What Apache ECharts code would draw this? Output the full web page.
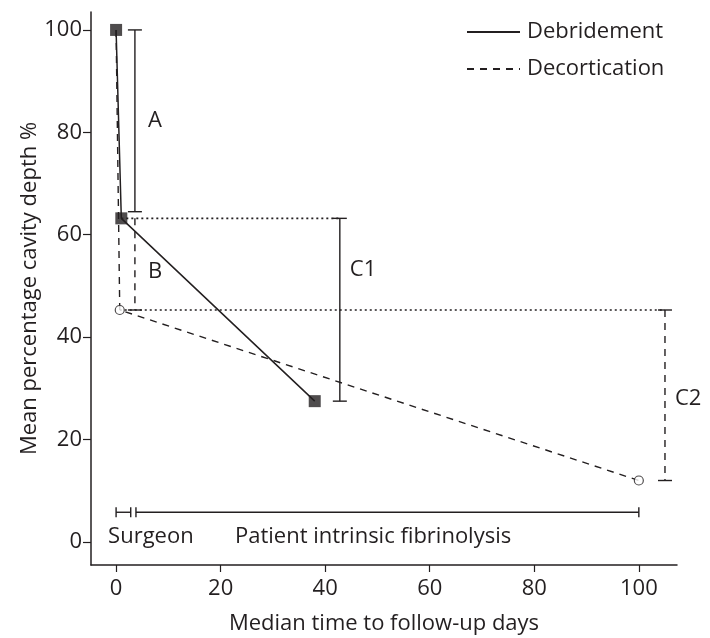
<!DOCTYPE html>
<html>
<head>
<meta charset="utf-8">
<script src="https://cdn.jsdelivr.net/npm/echarts@6/dist/echarts.min.js"></script>
<style>
html, body { margin: 0; padding: 0; background: #fff; }
#chart { width: 710px; height: 638px; }
</style>
</head>
<body>
<div id="chart"></div>
<script>
// tick labels
const xTicks = [0, 20, 40, 60, 80, 100];
const yTicks = [0, 20, 40, 60, 80, 100];

// series
const debrX = [0, 1, 38];
const debrY = [100, 63.2, 27.5];
const decoX = [0, 0.7, 100];
const decoY = [100, 45.3, 12];

// labelled depth differences (vertical bars)
const barNames = ['A', 'B', 'C1', 'C2'];
const barX = [3.6, 3.6, 42.8, 105];
const barTop = [100, 63.2, 63.2, 45.3];
const barBottom = [64.5, 45.3, 27.5, 12];

// time phases along the bottom
const phaseNames = ['Surgeon', 'Patient intrinsic fibrinolysis'];
const phaseStart = [0, 3.8];
const phaseEnd = [2.8, 100];
const phaseLevel = 5.8;

const ink = '#231f20';
const font = '"Open Sans", sans-serif';

// style per bar: dashed or not, which caps, label nudge (px)
const barStyle = {
    A: { dash: null, capTop: true, capBottom: true, dx: 13, dy: 0 },
    B: { dash: [7, 6], capTop: false, capBottom: true, dx: 13, dy: 8 },
    C1: { dash: null, capTop: true, capBottom: true, dx: 10, dy: -40 },
    C2: { dash: [7, 6], capTop: true, capBottom: true, dx: 10, dy: 3 }
};
const phaseLabelDx = [-8, 99];

const myChart = echarts.init(document.getElementById('chart'));

const toPairs = (xs, ys) => xs.map((x, i) => [x, ys[i]]);

const option = {
    animation: false,
    textStyle: { fontFamily: font, color: ink },
    grid: { left: 91, right: 33, top: 12, bottom: 73, outerBoundsMode: 'none', containLabel: false },
    legend: {
        orient: 'vertical',
        left: 461,
        top: 16,
        itemWidth: 53,
        itemHeight: 14,
        itemGap: 15,
        itemStyle: { opacity: 0 },
        textStyle: { fontSize: 22, color: ink, fontFamily: font, padding: [0, 0, 0, 2] },
        data: ['Debridement', 'Decortication']
    },
    xAxis: {
        type: 'value',
        min: -4.8,
        max: 107.3,
        name: 'Median time to follow-up days',
        nameLocation: 'middle',
        nameMoveOverlap: false,
        nameGap: 48,
        nameTextStyle: { fontSize: 22, color: ink },
        splitLine: { show: false },
        axisLine: { onZero: false, lineStyle: { color: ink, width: 1.5 } },
        axisTick: { customValues: xTicks, length: 7, lineStyle: { color: ink, width: 1.2 } },
        axisLabel: { customValues: xTicks, fontSize: 22, color: ink, margin: 13 }
    },
    yAxis: {
        type: 'value',
        min: -4.5,
        max: 103.5,
        name: 'Mean percentage cavity depth %',
        nameLocation: 'middle',
        nameMoveOverlap: false,
        nameGap: 50,
        nameTextStyle: { fontSize: 22, color: ink },
        splitLine: { show: false },
        axisLine: { onZero: false, lineStyle: { color: ink, width: 1.5 } },
        axisTick: { customValues: yTicks, length: 8, lineStyle: { color: ink, width: 1.2 } },
        axisLabel: { customValues: yTicks, fontSize: 22, color: ink, margin: 9 }
    },
    series: [
        {
            name: 'Debridement',
            type: 'line',
            symbol: 'none',
            itemStyle: { color: ink },
            lineStyle: { color: ink, width: 1.5 },
            data: toPairs(debrX, debrY),
            z: 3
        },
        {
            name: 'Decortication',
            type: 'line',
            symbol: 'none',
            itemStyle: { color: ink },
            lineStyle: { color: ink, width: 1.4, type: [7, 6] },
            data: toPairs(decoX, decoY),
            z: 3
        },
        // dotted guides from the follow-up points to the difference bars
        {
            type: 'line',
            symbol: 'none',
            lineStyle: { color: ink, width: 1.6, type: [2, 3] },
            data: [[debrX[1], debrY[1]], [barX[2], debrY[1]]],
            z: 2
        },
        {
            type: 'line',
            symbol: 'none',
            lineStyle: { color: ink, width: 1.6, type: [2, 3] },
            data: [[decoX[1], decoY[1]], [barX[3], decoY[1]]],
            z: 2
        },
        {
            type: 'scatter',
            symbol: 'rect',
            symbolSize: 12,
            itemStyle: { color: ink },
            data: toPairs(debrX, debrY),
            z: 5
        },
        {
            type: 'scatter',
            symbol: 'circle',
            symbolSize: 9,
            itemStyle: { color: '#fff', borderColor: ink, borderWidth: 1.2 },
            data: toPairs(decoX.slice(1), decoY.slice(1)),
            z: 5
        },
        // difference bars A, B, C1, C2
        {
            type: 'custom',
            data: barNames.map((n, i) => [barX[i], barTop[i], barBottom[i], i]),
            z: 4,
            renderItem: function (params, api) {
                const name = barNames[api.value(3)];
                const st = barStyle[name];
                const top = api.coord([api.value(0), api.value(1)]);
                const bot = api.coord([api.value(0), api.value(2)]);
                const w = 7;
                const lineSt = { stroke: ink, lineWidth: 1.4, lineDash: st.dash };
                const kids = [{
                    type: 'line',
                    shape: { x1: top[0], y1: top[1], x2: bot[0], y2: bot[1] },
                    style: lineSt
                }];
                if (st.capTop) kids.push({
                    type: 'line',
                    shape: { x1: top[0] - w, y1: top[1], x2: top[0] + w, y2: top[1] },
                    style: { stroke: ink, lineWidth: 1.4 }
                });
                if (st.capBottom) kids.push({
                    type: 'line',
                    shape: { x1: bot[0] - w, y1: bot[1], x2: bot[0] + w, y2: bot[1] },
                    style: { stroke: ink, lineWidth: 1.4 }
                });
                kids.push({
                    type: 'text',
                    x: top[0] + st.dx,
                    y: (top[1] + bot[1]) / 2 + st.dy,
                    style: {
                        text: name, fill: ink, fontSize: 22, fontFamily: font,
                        verticalAlign: 'middle', align: 'left'
                    }
                });
                return { type: 'group', children: kids };
            }
        },
        // phase spans along the bottom
        {
            type: 'custom',
            data: phaseNames.map((n, i) => [phaseStart[i], phaseEnd[i], phaseLevel, i]),
            z: 4,
            renderItem: function (params, api) {
                const i = api.value(3);
                const a = api.coord([api.value(0), api.value(2)]);
                const b = api.coord([api.value(1), api.value(2)]);
                const h = 5;
                const st = { stroke: ink, lineWidth: 1.4 };
                return {
                    type: 'group',
                    children: [
                        { type: 'line', shape: { x1: a[0], y1: a[1], x2: b[0], y2: b[1] }, style: st },
                        { type: 'line', shape: { x1: a[0], y1: a[1] - h, x2: a[0], y2: a[1] + h }, style: st },
                        { type: 'line', shape: { x1: b[0], y1: b[1] - h, x2: b[0], y2: b[1] + h }, style: st },
                        {
                            type: 'text',
                            x: a[0] + phaseLabelDx[i],
                            y: a[1] + 24,
                            style: {
                                text: phaseNames[i], fill: ink, fontSize: 22, fontFamily: font,
                                verticalAlign: 'middle', align: 'left'
                            }
                        }
                    ]
                };
            }
        }
    ]
};

myChart.setOption(option);
</script>
</body>
</html>
